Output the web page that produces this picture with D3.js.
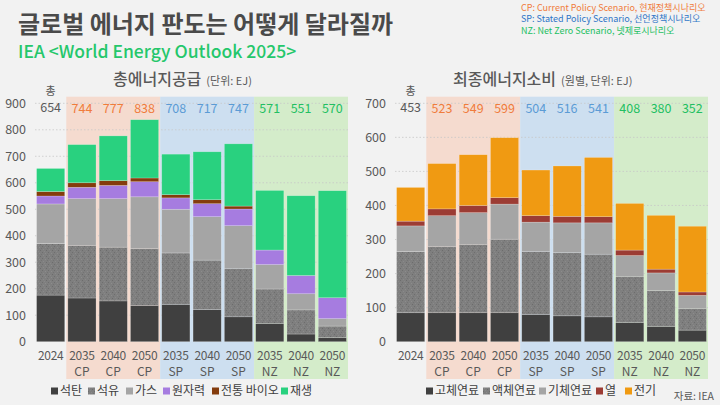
<!DOCTYPE html>
<html>
<head>
<meta charset="utf-8">
<script src="https://cdn.jsdelivr.net/npm/d3@7"></script>
<style>
  body { margin: 0; background: #f2f2f2; }
  svg { display: block; font-family: "Noto Sans CJK KR", "Noto Sans", sans-serif; }
</style>
</head>
<body>
<svg id="chart" width="720" height="405"></svg>
<script>
// x categories, shared by both panels
var years = ["2024", "2035", "2040", "2050", "2035", "2040", "2050", "2035", "2040", "2050"];
var scen = ["", "CP", "CP", "CP", "SP", "SP", "SP", "NZ", "NZ", "NZ"];

// 총에너지공급 (EJ)
var supplyKeys = ["석탄", "석유", "가스", "원자력", "전통 바이오", "재생"];
var coal = [176, 165, 154, 137, 141, 121, 94, 69, 29, 15];
var oil = [195, 199, 203, 215, 194, 187, 183, 130, 91, 44];
var gasS = [149, 176, 183, 195, 165, 164, 161, 92, 61, 28];
var nuclear = [30, 43, 50, 57, 43, 49, 63, 55, 69, 79];
var tradBio = [17, 17, 18, 14, 12, 15, 11, 0, 0, 0];
var renew = [87, 144, 169, 220, 153, 181, 235, 225, 301, 404];
var supplyTotal = [654, 744, 777, 838, 708, 717, 747, 571, 551, 570];
var supplyTicks = [0, 100, 200, 300, 400, 500, 600, 700, 800, 900];

// 최종에너지소비 (EJ)
var useKeys = ["고체연료", "액체연료", "기체연료", "열", "전기"];
var solid = [85, 85, 85, 85, 80, 76, 73, 56, 45, 34];
var liquid = [180, 195, 201, 216, 185, 186, 184, 136, 105, 64];
var gasU = [75, 90, 93, 103, 86, 87, 92, 61, 52, 38];
var heat = [14, 20, 21, 19, 19, 19, 18, 16, 11, 10];
var elec = [99, 133, 149, 176, 134, 148, 174, 137, 158, 193];
var useTotal = [453, 523, 549, 599, 504, 516, 541, 408, 380, 352];
var useTicks = [0, 100, 200, 300, 400, 500, 600, 700];

var scenColor = { "": "#595959", CP: "#f07c3c", SP: "#5b9bd5", NZ: "#22bf62" };
var shadeColor = { CP: "#f5dbcf", SP: "#cddff0", NZ: "#d4ecca" };

var svg = d3.select("#chart");

// grainy texture for the oil / liquid series
var defs = svg.append("defs");
var pat = defs.append("pattern").attr("id", "grain")
    .attr("width", 6).attr("height", 6).attr("patternUnits", "userSpaceOnUse");
pat.append("rect").attr("width", 6).attr("height", 6).attr("fill", "#7f7f7f");
[[0, 0, "#6e6e6e"], [3, 1, "#8c8c8c"], [1, 3, "#8a8a8a"], [4, 4, "#6c6c6c"], [5, 2, "#737373"], [2, 5, "#888"]]
    .forEach(function (p) {
        pat.append("rect").attr("x", p[0]).attr("y", p[1]).attr("width", 1).attr("height", 1).attr("fill", p[2]);
    });

// header
svg.append("text").attr("x", 18).attr("y", 33)
    .style("font-size", "24px").style("font-weight", "700").attr("fill", "#4a4a4a")
    .text("글로벌 에너지 판도는 어떻게 달라질까");
svg.append("text").attr("x", 18).attr("y", 58)
    .style("font-size", "17.5px").style("font-weight", "500").attr("fill", "#25c76b")
    .text("IEA <World Energy Outlook 2025>");

var notes = [
    ["CP: Current Policy Scenario, 현재정책시나리오", "#f07c3c"],
    ["SP: Stated Policy Scenario, 선언정책시나리오", "#2e75c7"],
    ["NZ: Net Zero Scenario, 넷제로시나리오", "#22bf62"]
];
svg.selectAll("text.note").data(notes).enter().append("text")
    .attr("class", "note")
    .attr("x", 521).attr("y", function (d, i) { return 10.5 + i * 11.5; })
    .style("font-size", "9px").attr("fill", function (d) { return d[1]; })
    .text(function (d) { return d[0]; });

function drawPanel(opt) {
    var g = svg.append("g");
    var x = d3.scaleBand().domain(d3.range(years.length)).range(opt.xr)
        .paddingInner(0.1).paddingOuter(0.05);
    var y = d3.scaleLinear().domain([0, opt.max]).range([341.7, 103.3]);
    var pad = x.step() * 0.1 / 2;

    // scenario shading (3 bars each)
    ["CP", "SP", "NZ"].forEach(function (s) {
        var idx = scen.map(function (v, i) { return v === s ? i : -1; }).filter(function (i) { return i >= 0; });
        var x0 = x(idx[0]) - pad;
        var x1 = x(idx[idx.length - 1]) + x.bandwidth() + pad;
        g.append("rect").attr("x", x0).attr("y", 96.7).attr("width", x1 - x0).attr("height", 379 - 96.7)
            .attr("fill", shadeColor[s]);
    });

    // gridlines + y labels
    g.selectAll("line.grid").data(opt.ticks.slice(1)).enter().append("line")
        .attr("x1", x.range()[0]).attr("x2", x.range()[1])
        .attr("y1", function (d) { return y(d); }).attr("y2", function (d) { return y(d); })
        .attr("stroke", "#c8c8c8").attr("stroke-width", 0.8).attr("stroke-dasharray", "1.5,2");

    g.selectAll("text.ytick").data(opt.ticks).enter().append("text")
        .attr("x", opt.yLabelX).attr("y", function (d) { return y(d); }).attr("dy", "0.36em")
        .attr("text-anchor", "end").style("font-size", "12.5px").attr("fill", "#595959")
        .text(function (d) { return d; });

    // stacked bars
    var rows = years.map(function (yr, i) {
        var r = { i: i };
        opt.keys.forEach(function (k, j) { r[k] = opt.series[j][i]; });
        return r;
    });
    var stack = d3.stack().keys(opt.keys)(rows);
    var color = d3.scaleOrdinal().domain(opt.keys).range(opt.colors);

    g.selectAll("g.layer").data(stack).enter().append("g")
        .attr("fill", function (d) { return color(d.key); })
        .selectAll("rect").data(function (d) { return d; }).enter().append("rect")
        .attr("x", function (d) { return x(d.data.i); })
        .attr("width", x.bandwidth())
        .attr("y", function (d) { return y(d[1]); })
        .attr("height", function (d) { return Math.max(0, y(d[0]) - y(d[1])); })
        .attr("stroke", "rgba(255,255,255,0.35)").attr("stroke-width", 0.6);

    // totals
    g.selectAll("text.tot").data(opt.totals).enter().append("text")
        .attr("x", function (d, i) { return x(i) + x.bandwidth() / 2; })
        .attr("y", function (d, i) { return i === 0 ? 112 : 113; })
        .attr("text-anchor", "middle").style("font-size", "12.5px")
        .attr("fill", function (d, i) { return scenColor[scen[i]]; })
        .text(function (d) { return d; });
    g.append("text").attr("x", x(0) + x.bandwidth() / 2).attr("y", 95)
        .attr("text-anchor", "middle").style("font-size", "11px").attr("fill", "#595959")
        .text("총");

    // x labels
    g.selectAll("text.yr").data(years).enter().append("text")
        .attr("x", function (d, i) { return x(i) + x.bandwidth() / 2; })
        .attr("y", 359.5).attr("text-anchor", "middle").style("font-size", "12px")
        .style("letter-spacing", "-0.3px").attr("fill", "#595959")
        .text(function (d) { return d; });
    g.selectAll("text.sc").data(scen).enter().append("text")
        .attr("x", function (d, i) { return x(i) + x.bandwidth() / 2; })
        .attr("y", 376).attr("text-anchor", "middle").style("font-size", "12px").attr("fill", "#595959")
        .text(function (d) { return d; });

    // panel title
    var t = g.append("text").attr("x", opt.titleX).attr("y", 85).attr("fill", "#595959");
    t.append("tspan").style("font-size", "16px").style("font-weight", "500").text(opt.title);
    t.append("tspan").style("font-size", "11px").attr("dx", 5).text(opt.unit);

    // legend
    var lg = g.selectAll("g.lg").data(opt.keys).enter().append("g")
        .attr("transform", function (d, i) { return "translate(" + opt.legendX[i] + ",391)"; });
    lg.append("rect").attr("x", 0).attr("y", -3.5).attr("width", 7).attr("height", 7)
        .attr("fill", function (d) { return color(d); });
    lg.append("text").attr("x", 9).attr("dy", "0.36em").style("font-size", "12px").attr("fill", "#404040")
        .text(function (d) { return d; });
}

drawPanel({
    xr: [35, 348], max: 900, ticks: supplyTicks, yLabelX: 26,
    keys: supplyKeys, series: [coal, oil, gasS, nuclear, tradBio, renew],
    colors: ["#404040", "url(#grain)", "#a5a5a5", "#a67ce0", "#843c0c", "#29d17f"],
    totals: supplyTotal, title: "총에너지공급", unit: "(단위: EJ)", titleX: 113,
    legendX: [51, 88, 126, 163, 212, 281]
});

drawPanel({
    xr: [395, 708], max: 700, ticks: useTicks, yLabelX: 386,
    keys: useKeys, series: [solid, liquid, gasU, heat, elec],
    colors: ["#404040", "url(#grain)", "#a5a5a5", "#9c3c34", "#f09a12"],
    totals: useTotal, title: "최종에너지소비", unit: "(원별, 단위: EJ)", titleX: 453,
    legendX: [426, 483, 539, 596, 625]
});

svg.append("text").attr("x", 714).attr("y", 400).attr("text-anchor", "end")
    .style("font-size", "10.5px").attr("fill", "#595959").text("자료: IEA");
</script>
</body>
</html>
